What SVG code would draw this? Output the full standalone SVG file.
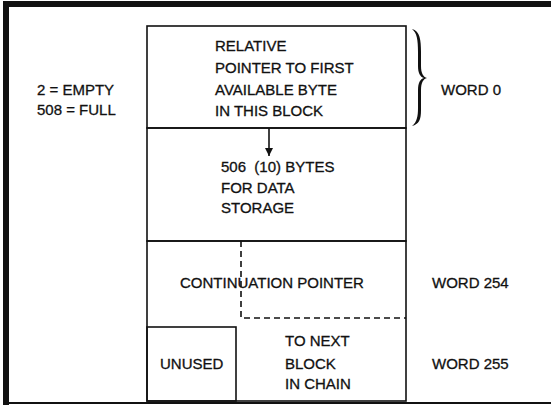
<svg xmlns="http://www.w3.org/2000/svg" width="551" height="409" viewBox="0 0 551 409">
  <style>
    .t { font-family: "Liberation Sans", Arial, sans-serif; font-size: 15px; fill: #111; stroke: #111; stroke-width: 0.3; white-space: pre; }
    .ln { stroke: #111; stroke-width: 1.6; fill: none; }
    .dash { stroke: #111; stroke-width: 1.6; fill: none; stroke-dasharray: 6 4; }
  </style>
  <defs>
    <marker id="arrow" viewBox="0 0 10 10" refX="10" refY="5" markerWidth="14" markerHeight="8" markerUnits="userSpaceOnUse" orient="auto">
      <path d="M0,0 L10,5 L0,10 z" fill="#111"/>
    </marker>
  </defs>
  <rect width="551" height="409" fill="#fff"/>

  <!-- outer frame -->
  <g id="frame">
    <rect x="3" y="1" width="548" height="6" fill="#111"/>
    <rect x="3" y="1" width="6" height="404" fill="#111"/>
    <rect x="3" y="402" width="548" height="2" fill="#111"/>
  </g>

  <!-- word 0: relative pointer -->
  <g id="word0">
    <rect class="ln" x="147" y="26" width="259" height="102"/>
    <text class="t" x="215" y="51">RELATIVE</text>
    <text class="t" x="215" y="73">POINTER TO FIRST</text>
    <text class="t" x="215" y="95">AVAILABLE BYTE</text>
    <text class="t" x="215" y="116">IN THIS BLOCK</text>
  </g>

  <g id="range-note">
    <text class="t" x="37" y="95">2 = EMPTY</text>
    <text class="t" x="37" y="115">508 = FULL</text>
  </g>

  <g id="word0-label">
    <path d="M412,29 C420,31 421,40 421,52 L421,66 C421,73 423,77 427,78 C423,79 421,83 421,90 L421,110 C421,120 419,124 412,126 C417,122 418,116 418,108 L418,90 C418,83 420,79 424,78 C420,77 418,73 418,66 L418,52 C418,40 417,33 412,29 Z" fill="#111"/>
    <text class="t" x="441" y="95">WORD 0</text>
  </g>

  <!-- data storage area -->
  <g id="data">
    <rect class="ln" x="147" y="128" width="259" height="113"/>
    <text class="t" x="221" y="172" xml:space="preserve">506  (10) BYTES</text>
    <text class="t" x="221" y="193">FOR DATA</text>
    <text class="t" x="221" y="213">STORAGE</text>
  </g>

  <!-- words 254 / 255: continuation pointer -->
  <g id="continuation">
    <rect class="ln" x="147" y="241" width="259" height="160"/>
    <text class="t" x="180" y="288">CONTINUATION POINTER</text>
    <text class="t" x="432" y="288">WORD 254</text>
  </g>

  <g id="unused">
    <rect class="ln" x="147" y="327" width="89" height="74"/>
    <text class="t" x="160" y="369">UNUSED</text>
  </g>

  <g id="next-block">
    <text class="t" x="285" y="346">TO NEXT</text>
    <text class="t" x="285" y="369">BLOCK</text>
    <text class="t" x="285" y="389">IN CHAIN</text>
    <text class="t" x="432" y="369">WORD 255</text>
  </g>

  <g id="connectors">
    <line class="ln" x1="269" y1="128" x2="269" y2="156" marker-end="url(#arrow)"/>
    <path class="dash" d="M241,241 V318 H406"/>
  </g>
</svg>
